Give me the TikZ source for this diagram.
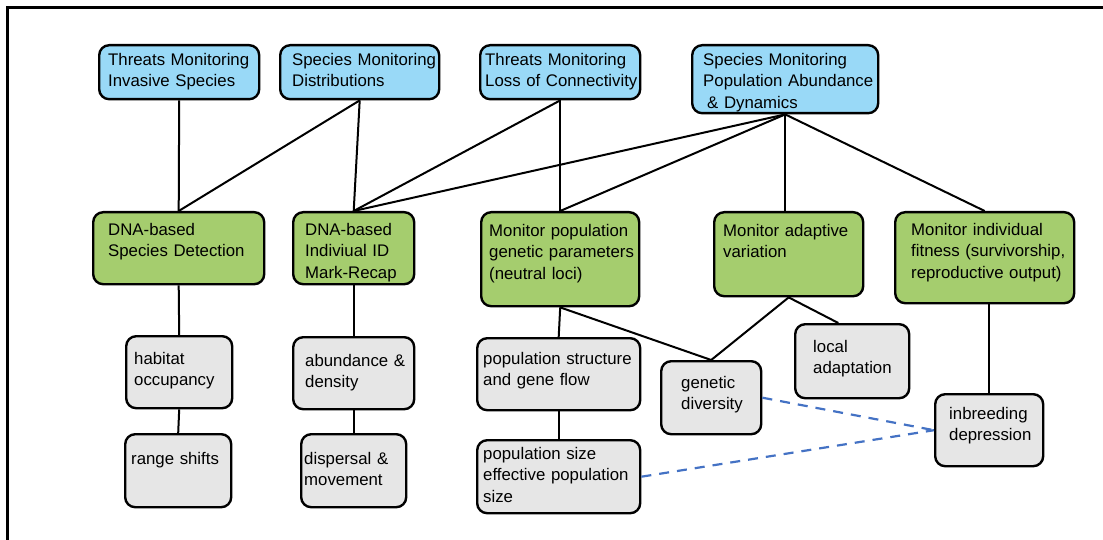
\documentclass[tikz,border=0pt]{standalone}
\usepackage{fontspec}
\setmainfont{Liberation Sans}
\usetikzlibrary{calc}

\definecolor{topblue}{RGB}{153,217,247}
\definecolor{midgreen}{RGB}{165,205,110}
\definecolor{lowgray}{RGB}{230,230,230}
\definecolor{linkblue}{RGB}{68,114,196}

\tikzset{
  cell/.style={draw, line width=2.4pt, rounded corners=10pt, anchor=north west,
    inner sep=0pt, font=\fontsize{16.8}{21.5}\selectfont},
  pad/.style={execute at begin node={\raggedright\leftskip=#1\relax}},
  topcell/.style={cell, fill=topblue},
  midcell/.style={cell, fill=midgreen},
  lowcell/.style={cell, fill=lowgray},
  link/.style={line width=2pt},
  weaklink/.style={line width=2.2pt, linkblue, dash pattern=on 10pt off 8pt}
}

\begin{document}
\begin{tikzpicture}[x=1pt,y=-1pt]
  \useasboundingbox (0,0) rectangle (1103,540);

  % Frame
  \draw[line width=2.4pt] (7.5,540) -- (7.5,7.5) -- (1103,7.5);

  % Monitoring goals
  \node[topcell, text width=160pt, text height=20pt, text depth=34pt, pad=9pt] (tInv) at (98,44) {Threats Monitoring\\Invasive Species};
  \node[topcell, text width=159pt, text height=20pt, text depth=34pt, pad=12pt] (tDist) at (279,44) {Species Monitoring\\Distributions};
  \node[topcell, text width=160pt, text height=20pt, text depth=34pt, pad=5pt] (tConn) at (479,44) {Threats Monitoring\\Loss of Connectivity};
  \node[topcell, text width=186pt, text height=20pt, text depth=48pt, pad=11pt] (tAbun) at (691,44) {Species Monitoring\\Population Abundance\\\hspace*{4pt}\& Dynamics};

  % Methods
  \node[midcell, text width=171pt, text height=23pt, text depth=49pt, pad=15pt] (mDet) at (92,211) {DNA-based\\Species Detection};
  \node[midcell, text width=121pt, text height=23pt, text depth=49pt, pad=12pt] (mInd) at (292,211) {DNA-based\\Indiviual ID\\Mark-Recap};
  \node[midcell, text width=158pt, text height=24pt, text depth=70pt, pad=8pt] (mGen) at (480,211) {Monitor population\\genetic parameters\\(neutral loci)};
  \node[midcell, text width=149pt, text height=24pt, text depth=60pt, pad=9pt] (mAda) at (713,211) {Monitor adaptive\\variation};
  \node[midcell, text width=179pt, text height=23pt, text depth=68pt, pad=16pt] (mFit) at (894,211) {Monitor individual\\fitness (survivorship,\\reproductive output)};

  % Outcomes
  \node[lowcell, text width=106pt, text height=28pt, text depth=44pt, pad=8pt] (bHab) at (125,335) {habitat\\occupancy};
  \node[lowcell, text width=106pt, text height=30pt, text depth=43pt, pad=6pt] (bRange) at (124,433) {range shifts};
  \node[lowcell, text width=121pt, text height=29pt, text depth=43pt, pad=12pt] (bAbd) at (292,336) {abundance \&\\density};
  \node[lowcell, text width=105pt, text height=30pt, text depth=43pt, pad=3pt] (bDisp) at (300,433) {dispersal \&\\movement};
  \node[lowcell, text width=163pt, text height=26pt, text depth=46pt, pad=6pt] (bStr) at (476,337) {population structure\\and gene flow};
  \node[lowcell, text width=163pt, text height=19pt, text depth=54pt, pad=6pt] (bSize) at (476,439) {population size\\effective population\\size};
  \node[lowcell, text width=100pt, text height=27pt, text depth=46pt, pad=20pt] (bDiv) at (660,360) {genetic\\diversity};
  \node[lowcell, text width=114pt, text height=28pt, text depth=46pt, pad=18pt] (bLoc) at (794,323) {local\\adaptation};
  \node[lowcell, text width=108pt, text height=25pt, text depth=47pt, pad=14pt] (bInb) at (934,393) {inbreeding\\depression};

  % Goals to methods
  \draw[link] (tInv.south) -- (mDet.north);
  \draw[link] (tDist.south) -- (mDet.north);
  \draw[link] (tDist.south) -- (mInd.north);
  \draw[link] (tConn.south) -- (mInd.north);
  \draw[link] (tConn.south) -- (mGen.north);
  \draw[link] (tAbun.south) -- (mInd.north);
  \draw[link] (tAbun.south) -- (mGen.north);
  \draw[link] (tAbun.south) -- (tAbun.south |- mAda.north);
  \draw[link] (tAbun.south) -- (mFit.north);

  % Methods to outcomes
  \draw[link] (mDet.south) -- (bHab.north);
  \draw[link] (bHab.south) -- (bRange.north);
  \draw[link] (mInd.south) -- (bAbd.north);
  \draw[link] (bAbd.south) -- (bDisp.north);
  \draw[link] (mGen.south) -- (bStr.north);
  \draw[link] (bStr.south) -- (bSize.north);
  \draw[link] (mGen.south) -- (bDiv.north);
  \draw[link] (mAda.south) -- (bDiv.north);
  \draw[link] (mAda.south) -- (bLoc.110);
  \draw[link] (bInb.north |- mFit.south) -- (bInb.north);

  % Genetic links
  \draw[weaklink] (bDiv.east) -- (bInb.west);
  \draw[weaklink] (bSize.east) -- (bInb.west);
\end{tikzpicture}
\end{document}
